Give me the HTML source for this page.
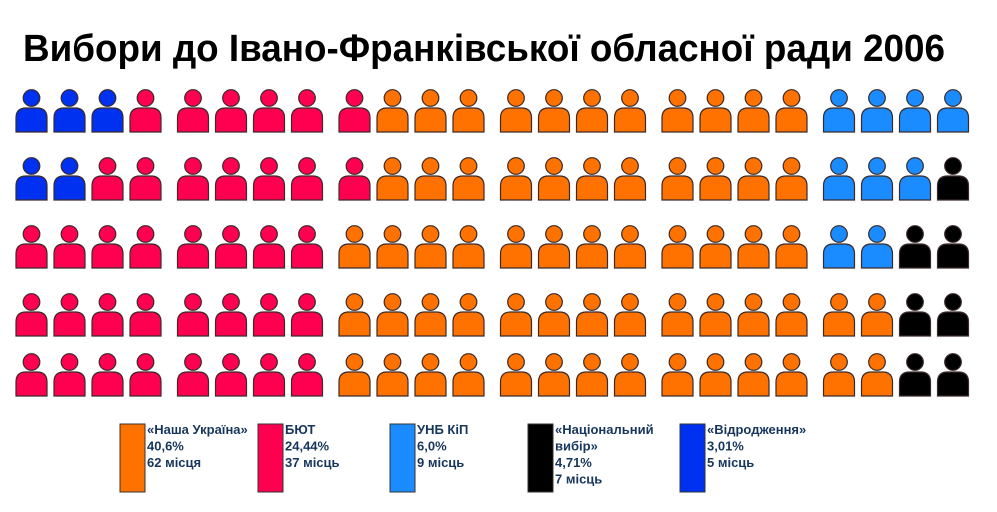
<!DOCTYPE html>
<html><head><meta charset="utf-8"><style>
html,body{margin:0;padding:0;background:#fff;}
svg{display:block;}
text{font-family:"Liberation Sans","Noto Sans CJK SC",sans-serif;font-weight:bold;}
</style></head><body>
<svg id="chart" width="997" height="512" viewBox="0 0 997 512" xmlns="http://www.w3.org/2000/svg">
<text x="23" y="61" font-size="38" fill="#000" textLength="922" lengthAdjust="spacingAndGlyphs">Вибори до Івано-Франківської обласної ради 2006</text>
<g id="seats"></g>
<g id="legend"></g>
</svg>
<script>
const parties = ["«Наша Україна»", "БЮТ", "УНБ КіП", "«Національний вибір»", "«Відродження»"];
const seatCounts = [62, 37, 9, 7, 5];
const percents = ["40,6%", "24,44%", "6,0%", "4,71%", "3,01%"];
const seatLabels = ["62 місця", "37 місць", "9 місць", "7 місць", "5 місць"];

const colors = ["#ff7200", "#ff0050", "#1a8cff", "#000000", "#0030f0"];
const NS = "http://www.w3.org/2000/svg";
const ROWS = 5, COLS = 24;
const rowTop = [90, 158, 226, 294, 354];
function colX(c){ return 16 + Math.floor(c/4)*161.5 + (c%4)*38; }

const grid = [];
for (let r=0;r<ROWS;r++){ grid.push(new Array(COLS).fill(-1)); }
const cells = [];
for (let c=0;c<COLS;c++) for (let r=0;r<ROWS;r++) cells.push({c,r});
function fill(party, n, keyFn){
  const free = cells.filter(p=>grid[p.r][p.c]===-1);
  free.sort((a,b)=>keyFn(a)-keyFn(b));
  for (let i=0;i<Math.min(n,free.length);i++) grid[free[i].r][free[i].c]=party;
}
// blue: top-left triangle
fill(4, seatCounts[4], p=>p.c+p.r+p.r*0.01);
// red: column-major after blue
fill(1, seatCounts[1], p=>p.c*5+p.r);
// black: bottom-right
fill(3, seatCounts[3], p=>(COLS-1-p.c)*2+(ROWS-1-p.r)+(p.r===0?0.5:0)-p.c*0.01);
// light blue: top-right
fill(2, seatCounts[2], p=>(COLS-1-p.c)+(p.r>=3?10:p.r*0.45));
// orange: remainder
fill(0, seatCounts[0], p=>p.c);

const seatsG = document.getElementById("seats");
function person(x, y, color){
  const g = document.createElementNS(NS,"g");
  const w = 31, bt = y+18, bb = y+42, rr = 10;
  const body = document.createElementNS(NS,"path");
  body.setAttribute("d", `M${x},${bb} L${x},${bt+rr} Q${x},${bt} ${x+rr},${bt} L${x+w-rr},${bt} Q${x+w},${bt} ${x+w},${bt+rr} L${x+w},${bb} Z`);
  body.setAttribute("fill", color);
  body.setAttribute("stroke", "#3a2a2a");
  body.setAttribute("stroke-width", "1.2");
  g.appendChild(body);
  const head = document.createElementNS(NS,"circle");
  head.setAttribute("cx", x+w/2);
  head.setAttribute("cy", y+8);
  head.setAttribute("r", 8.3);
  head.setAttribute("fill", color);
  head.setAttribute("stroke", "#3a2a2a");
  head.setAttribute("stroke-width", "1.2");
  g.appendChild(head);
  return g;
}
for (let r=0;r<ROWS;r++) for (let c=0;c<COLS;c++){
  const p = grid[r][c];
  if (p < 0) continue;
  const g = person(colX(c), rowTop[r], colors[p]);
  
  
  seatsG.appendChild(g);
}

const legendX = [120, 258, 390, 528, 680];
const legG = document.getElementById("legend");
parties.forEach((name,i)=>{
  const g = document.createElementNS(NS,"g");
  
  
  const rect = document.createElementNS(NS,"rect");
  rect.setAttribute("x", legendX[i]); rect.setAttribute("y", 424);
  rect.setAttribute("width", 25); rect.setAttribute("height", 68);
  rect.setAttribute("fill", colors[i]); rect.setAttribute("stroke", "#333"); rect.setAttribute("stroke-width", "1");
  
  
  g.appendChild(rect);
  let lines = [name, percents[i], seatLabels[i]];
  if (name === "«Національний вибір»") lines = ["«Національний", "вибір»", percents[i], seatLabels[i]];
  lines.forEach((t,j)=>{
    const tx = document.createElementNS(NS,"text");
    tx.setAttribute("x", legendX[i]+27);
    tx.setAttribute("y", 434 + j*16.5);
    tx.setAttribute("font-size", "13");
    tx.setAttribute("fill", "#17365d");
    tx.textContent = t;
    
    
    g.appendChild(tx);
  });
  legG.appendChild(g);
});
</script>
</body></html>
